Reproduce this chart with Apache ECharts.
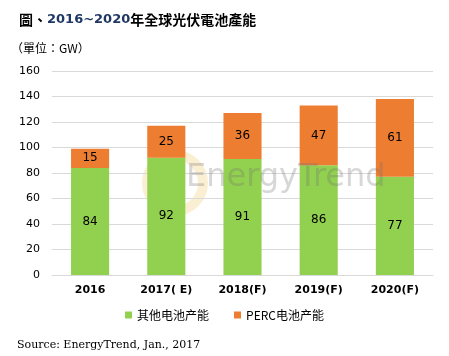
<!DOCTYPE html>
<html><head><meta charset="utf-8">
<script src="https://cdn.jsdelivr.net/npm/echarts@6/dist/echarts.min.js"></script>
<style>html,body{margin:0;padding:0;background:#fff}#c{width:449px;height:356px}</style>
</head><body><div id="c"></div>
<script>
var categories = ['2016', '2017( E)', '2018(F)', '2019(F)', '2020(F)'];
var otherCells = [84, 92, 91, 86, 77];
var percCells = [15, 25, 36, 47, 61];
var yTicks = [0, 20, 40, 60, 80, 100, 120, 140, 160];

var chart = echarts.init(document.getElementById('c'));
var lbl = {show: true, position: 'inside', color: '#000', fontSize: 12, fontFamily: 'DejaVu Sans'};
chart.setOption({
  animation: false,
  backgroundColor: '#fff',
  title: [
    {text: '{a|圖、}{b|2016~2020}{a|年全球光伏電池產能}', left: 14, top: 8,
     textStyle: {rich: {a: {fontSize: 14, fontWeight: 'bold', color: '#000', fontFamily: 'Noto Sans CJK TC'},
                        b: {fontSize: 13, fontWeight: 'bold', color: '#1F3864', fontFamily: 'DejaVu Sans'}}}},
    {text: '（單位：GW）', left: 6, top: 37, textStyle: {fontSize: 12, fontWeight: 'normal', color: '#000', fontFamily: 'Noto Sans CJK TC'}},
    {text: 'Source: EnergyTrend, Jan., 2017', left: 12, top: 335, textStyle: {fontSize: 11, fontWeight: 'normal', color: '#000', fontFamily: 'DejaVu Serif'}}
  ],
  graphic: [
    {type: 'circle', shape: {cx: 0, cy: 0, r: 28}, left: 142, top: 150, style: {fill: 'none', stroke: 'rgba(240,190,80,0.25)', lineWidth: 10}, z: 0},
    {type: 'text', left: 186, top: 162, style: {text: 'EnergyTrend', fontSize: 32, fontFamily: 'DejaVu Sans', fill: 'rgba(110,110,110,0.28)'}, z: 100}
  ],
  legend: {
    bottom: 30, left: 'center', itemWidth: 7, itemHeight: 7, itemGap: 25, icon: 'rect',
    textStyle: {fontSize: 12, color: '#000', fontFamily: 'Noto Sans CJK SC'},
    data: ['其他电池产能', 'PERC电池产能']
  },
  grid: {left: 52, right: 16, top: 71, bottom: 81},
  xAxis: {
    type: 'category', data: categories,
    axisLine: {lineStyle: {color: '#D9D9D9'}}, axisTick: {show: false},
    axisLabel: {color: '#000', fontSize: 11, fontWeight: 'bold', fontFamily: 'DejaVu Sans', margin: 10}
  },
  yAxis: {
    type: 'value', min: yTicks[0], max: yTicks[yTicks.length - 1], interval: 20,
    axisLine: {show: false}, axisTick: {show: false},
    splitLine: {lineStyle: {color: '#D9D9D9'}},
    axisLabel: {color: '#000', fontSize: 11, fontFamily: 'DejaVu Sans', margin: 12}
  },
  series: [
    {name: '其他电池产能', type: 'bar', stack: 't', data: otherCells, barWidth: '50%', itemStyle: {color: '#92D050'}, label: lbl, z: 2},
    {name: 'PERC电池产能', type: 'bar', stack: 't', data: percCells, barWidth: '50%', itemStyle: {color: '#ED7D31'}, label: lbl, z: 2}
  ]
});
</script></body></html>
